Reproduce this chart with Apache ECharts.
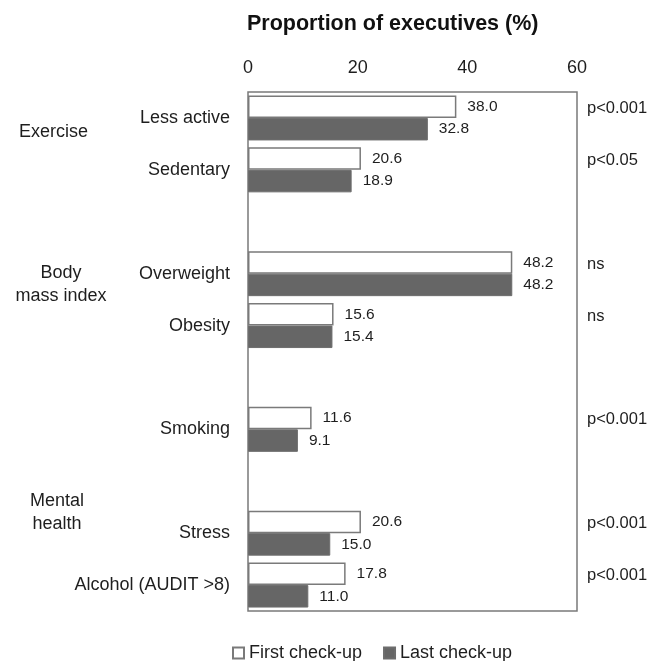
<!DOCTYPE html>
<html>
<head>
<meta charset="utf-8">
<title>Proportion of executives</title>
<script src="https://cdn.jsdelivr.net/npm/echarts@6/dist/echarts.min.js"></script>
<style>
  html, body { margin: 0; padding: 0; background: #fff; }
  #chart { width: 665px; height: 661px; }
</style>
</head>
<body>
<div id="chart"></div>
<script>
// Risk factors, with blank slots separating the groups
const categories = ['Less active', 'Sedentary', '', 'Overweight', 'Obesity', '', 'Smoking', '', 'Stress', 'Alcohol (AUDIT >8)'];
const firstCheckup = [38.0, 20.6, null, 48.2, 15.6, null, 11.6, null, 20.6, 17.8];
const lastCheckup = [32.8, 18.9, null, 48.2, 15.4, null, 9.1, null, 15.0, 11.0];
const pValues = ['p<0.001', 'p<0.05', '', 'ns', 'ns', '', 'p<0.001', '', 'p<0.001', 'p<0.001'];
const groupNames = ['Exercise', 'Body\nmass index', 'Mental\nhealth'];
const xMin = 0, xMax = 60, xStep = 20;

const FONT = 'Liberation Sans, Arial, Helvetica, sans-serif';
const TEXT = '#1e1e1e';
const EDGE = '#7a7a7a';

const chart = echarts.init(document.getElementById('chart'), null, { renderer: 'canvas' });

const barLabel = {
  show: true,
  position: 'right',
  distance: 11,
  fontFamily: FONT,
  fontSize: 15.5,
  color: TEXT,
  formatter: p => (p.value == null ? '' : Number(p.value).toFixed(1))
};

const groupStyle = { fontFamily: FONT, fontSize: 18, fill: TEXT, textAlign: 'center', lineHeight: 23 };

chart.setOption({
  animation: false,
  backgroundColor: '#fff',
  title: {
    text: 'Proportion of executives (%)',
    left: 242,
    top: 8,
    textStyle: { fontFamily: FONT, fontSize: 21.5, fontWeight: 'bold', color: '#111' }
  },
  grid: {
    left: 248, right: 88, top: 92, bottom: 50,
    show: true, borderColor: EDGE, borderWidth: 1.5, backgroundColor: 'transparent'
  },
  legend: {
    left: 227,
    top: 639,
    itemWidth: 11,
    itemHeight: 11,
    itemGap: 21,
    icon: 'rect',
    textStyle: { fontFamily: FONT, fontSize: 18, color: TEXT },
    data: ['First check-up', 'Last check-up']
  },
  xAxis: {
    type: 'value',
    position: 'top',
    min: xMin, max: xMax, interval: xStep,
    axisLine: { show: false },
    axisTick: { show: false },
    splitLine: { show: false },
    axisLabel: { margin: 15, fontFamily: FONT, fontSize: 18, color: TEXT }
  },
  yAxis: [
    {
      type: 'category',
      inverse: true,
      data: categories,
      axisLine: { show: false },
      axisTick: { show: false },
      axisLabel: { margin: 18, fontFamily: FONT, fontSize: 18, color: TEXT }
    },
    {
      type: 'category',
      inverse: true,
      position: 'right',
      data: pValues,
      axisLine: { show: false },
      axisTick: { show: false },
      axisLabel: {
        margin: 10, fontFamily: FONT, fontSize: 16.5, color: TEXT,
        align: 'left', lineHeight: 19,
        // second blank line lifts the text to the first bar of each pair
        formatter: v => (v ? v + '\n ' : '')
      }
    }
  ],
  graphic: [
    { type: 'text', left: 19, top: 121, style: Object.assign({ text: groupNames[0] }, groupStyle, { textAlign: 'left' }) },
    { type: 'text', x: 61, y: 262, style: Object.assign({ text: groupNames[1] }, groupStyle) },
    { type: 'text', x: 57, y: 490, style: Object.assign({ text: groupNames[2] }, groupStyle) }
  ],
  series: [
    {
      name: 'First check-up',
      type: 'bar',
      data: firstCheckup,
      barWidth: 22.5,
      barGap: '0%',
      itemStyle: { color: '#ffffff', borderColor: EDGE, borderWidth: 1.5 },
      label: barLabel
    },
    {
      name: 'Last check-up',
      type: 'bar',
      data: lastCheckup,
      barWidth: 22.5,
      barGap: '0%',
      itemStyle: { color: '#666666', borderColor: '#6d6d6d', borderWidth: 1 },
      label: barLabel
    }
  ]
});
</script>
</body>
</html>
